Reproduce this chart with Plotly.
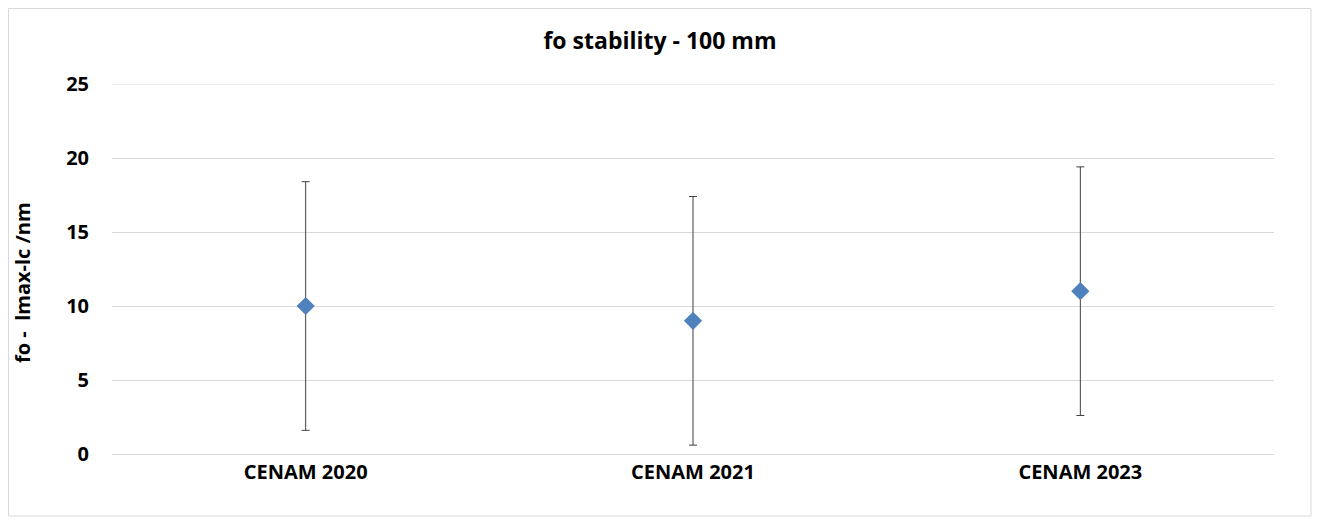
import plotly.graph_objects as go

categories = ["CENAM 2020", "CENAM 2021", "CENAM 2023"]
values = [10, 9, 11]
uncert = [8.4, 8.4, 8.4]
y_ticks = [0, 5, 10, 15, 20, 25]

# page body has an 8px margin; figure coordinates are offset by 8px
W, H = 1304, 510
L, R, T, B = 104, 38, 76, 64
pw, ph = W - L - R, H - T - B

fig = go.Figure()
fig.add_trace(go.Scatter(
    x=categories, y=values, mode="markers",
    marker=dict(symbol="diamond", size=14, color="#4F81BD"),
    error_y=dict(type="data", array=uncert, visible=True, color="#404040", thickness=1, width=4),
    showlegend=False,
))

font_family = "Open Sans, Liberation Sans, Arial, sans-serif"
fig.update_layout(
    width=W, height=H,
    margin=dict(l=L, r=R, t=T, b=B),
    paper_bgcolor="white", plot_bgcolor="white",
    title=dict(text="fo stability - 100 mm", x=0.5, xanchor="center", y=1 - 33 / H, yanchor="middle",
               font=dict(family=font_family, size=23, color="black", weight="bold")),
    xaxis=dict(type="category", range=[-0.5, 2.5], showgrid=False, showline=True, linecolor="#D9D9D9",
               linewidth=1, ticks="",
               tickfont=dict(family=font_family, size=20, color="black", weight="bold")),
    yaxis=dict(range=[0, 25], tickvals=y_ticks, showgrid=True, gridcolor="#D9D9D9", gridwidth=1,
               zeroline=False, showline=False, ticks="", ticklabelstandoff=22,
               tickfont=dict(family=font_family, size=20, color="black", weight="bold")),
)

# top gridline (plotly omits the gridline lying on the plot edge)
fig.add_shape(type="line", xref="paper", yref="y", x0=0, x1=1, y0=y_ticks[-1], y1=y_ticks[-1],
              line=dict(color="#D9D9D9", width=1), layer="below")

fig.add_annotation(text="fo -  lmax-lc /nm", textangle=-90, xref="paper", yref="paper",
                   x=(14 - L) / pw, y=(H - B - 275) / ph, xanchor="center", yanchor="middle",
                   showarrow=False,
                   font=dict(family=font_family, size=20, color="black", weight="bold"))

fig.add_shape(type="rect", xref="paper", yref="paper",
              x0=(0.5 - L) / pw, x1=(1303 - L) / pw,
              y0=(H - B - 508) / ph, y1=(H - B - 0.5) / ph,
              line=dict(color="#D9D9D9", width=1), fillcolor="rgba(0,0,0,0)", layer="below")

fig.write_html("out.html")
